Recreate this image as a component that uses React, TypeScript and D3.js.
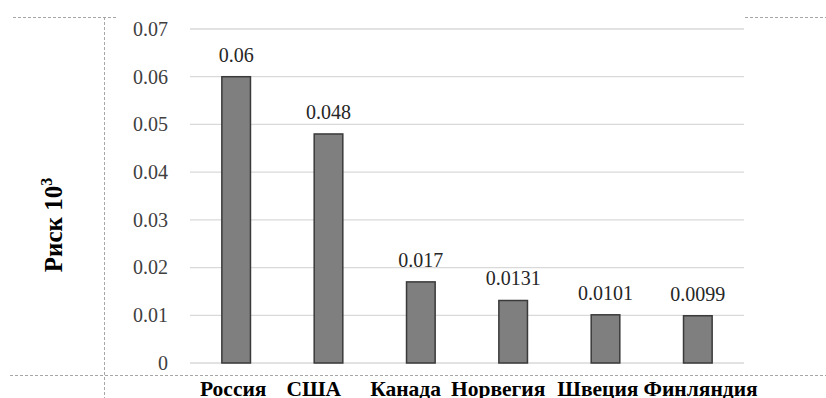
import React from "react";
import * as d3 from "d3";

const countries = ["Россия", "США", "Канада", "Норвегия", "Швеция", "Финляндия"];
const riskValues = [0.06, 0.048, 0.017, 0.0131, 0.0101, 0.0099];
const valueLabels = ["0.06", "0.048", "0.017", "0.0131", "0.0101", "0.0099"];
const yTicks = [0, 0.01, 0.02, 0.03, 0.04, 0.05, 0.06, 0.07];

const W = 826;
const H = 398;
const plot = { left: 190, right: 744, top: 29, bottom: 363 };
// the country captions are typed as one line under the chart; spacing before each word
const captionGaps = [0, 20, 29, 10, 12, 5];

const serif = "'Liberation Serif', 'Times New Roman', serif";

export default function App() {
  const x = d3
    .scaleBand<string>()
    .domain(countries)
    .range([plot.left, plot.right])
    .paddingInner(0.69)
    .paddingOuter(0.345);
  const y = d3.scaleLinear().domain([0, 0.07]).range([plot.bottom, plot.top]);
  const fmt = d3.format(".2f");

  return (
    <svg
      width={W}
      height={H}
      style={{ position: "absolute", left: 0, top: 0, background: "#fff" }}
    >
      {/* frame fragments */}
      <g stroke="#a6a6a6" strokeWidth={1} strokeDasharray="3,2" fill="none">
        <line x1={13} x2={117} y1={17.5} y2={17.5} />
        <line x1={745} x2={826} y1={17.5} y2={17.5} />
        <line x1={104.5} x2={104.5} y1={17} y2={398} />
        <line x1={10} x2={826} y1={375.5} y2={375.5} />
      </g>

      {/* grid */}
      <g>
        {yTicks.map((t) => (
          <line
            key={t}
            x1={plot.left}
            x2={plot.right}
            y1={y(t)}
            y2={y(t)}
            stroke="#d9d9d9"
            strokeWidth={1.3}
          />
        ))}
      </g>

      {/* y tick labels */}
      <g style={{ fontFamily: serif, fontSize: 20 }} fill="#404040" textAnchor="end">
        {yTicks.map((t) => (
          <text key={t} x={168} y={y(t)} dy="0.34em">
            {t === 0 ? "0" : fmt(t)}
          </text>
        ))}
      </g>

      {/* bars */}
      <g>
        {countries.map((c, i) => (
          <rect
            key={c}
            x={x(c)!}
            y={y(riskValues[i])}
            width={x.bandwidth()}
            height={y(0) - y(riskValues[i])}
            fill="#7f7f7f"
            stroke="#3a3a3a"
            strokeWidth={1.5}
          />
        ))}
      </g>

      {/* value labels */}
      <g style={{ fontFamily: serif, fontSize: 20 }} fill="#262626" textAnchor="middle">
        {countries.map((c, i) => (
          <text key={c} x={x(c)! + x.bandwidth() / 2} y={y(riskValues[i]) - 15}>
            {valueLabels[i]}
          </text>
        ))}
      </g>

      {/* category captions */}
      <text
        x={200}
        y={395.5}
        style={{ fontFamily: serif, fontSize: 21.5, fontWeight: "bold" }}
        fill="#000"
      >
        {countries.map((c, i) => (
          <tspan key={c} dx={captionGaps[i]}>
            {c}
          </tspan>
        ))}
      </text>

      {/* y axis title */}
      <text
        transform="translate(62,225) rotate(-90)"
        style={{ fontFamily: serif, fontSize: 25, fontWeight: "bold" }}
        textAnchor="middle"
        fill="#000"
      >
        Риск 10<tspan dy="-10" style={{ fontSize: 16 }}>3</tspan>
      </text>
    </svg>
  );
}
